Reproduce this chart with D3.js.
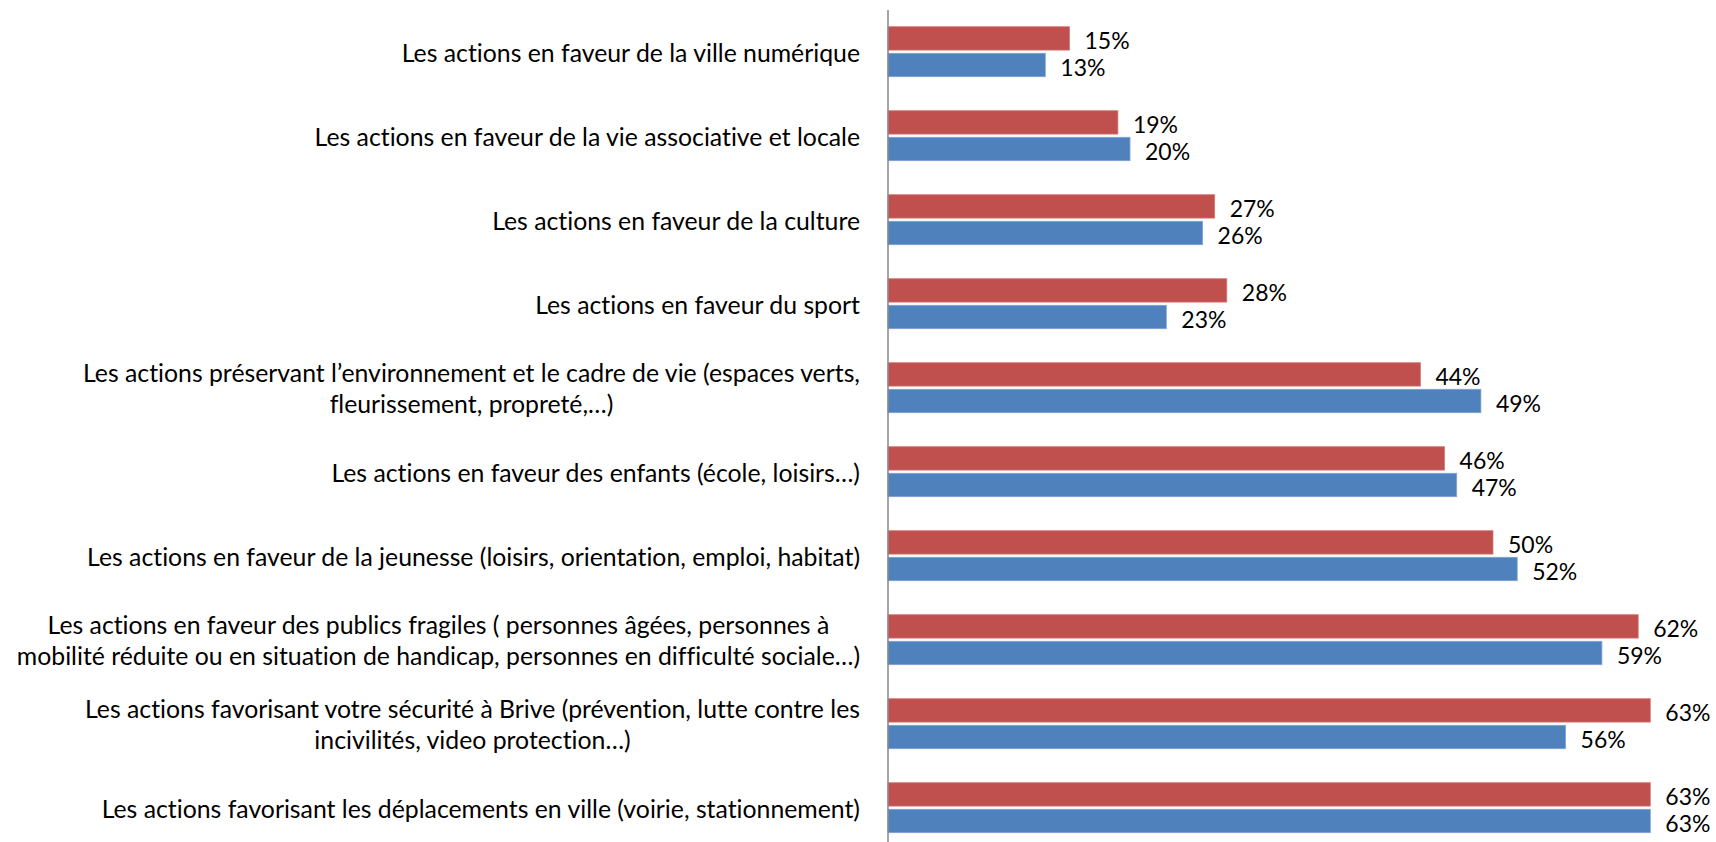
<!DOCTYPE html>
<html>
<head>
<meta charset="utf-8">
<script src="https://cdn.jsdelivr.net/npm/d3@7"></script>
<style>
  html, body { margin: 0; padding: 0; background: #fff; }
  svg { display: block; }
  text { font-variant-ligatures: none; }
</style>
</head>
<body>
<svg id="chart" width="1716" height="842"></svg>
<script>
const categories = [
  "Les actions en faveur de la ville numérique",
  "Les actions en faveur de la vie associative et locale",
  "Les actions en faveur de la culture",
  "Les actions en faveur du sport",
  "Les actions préservant l’environnement et le cadre de vie (espaces verts,\nfleurissement, propreté,…)",
  "Les actions en faveur des enfants (école, loisirs…)",
  "Les actions en faveur de la jeunesse (loisirs, orientation, emploi, habitat)",
  "Les actions en faveur des publics fragiles ( personnes âgées, personnes à\nmobilité réduite ou en situation de handicap, personnes en difficulté sociale…)",
  "Les actions favorisant votre sécurité à Brive (prévention, lutte contre les\nincivilités, video protection…)",
  "Les actions favorisant les déplacements en ville (voirie, stationnement)"
];
const seriesRed = [0.15, 0.19, 0.27, 0.28, 0.44, 0.46, 0.50, 0.62, 0.63, 0.63];
const seriesBlue = [0.13, 0.20, 0.26, 0.23, 0.49, 0.47, 0.52, 0.59, 0.56, 0.63];
const seriesNames = ["red", "blue"];
const seriesColors = {red: "#C0504D", blue: "#4F81BD"};
const seriesStroke = {red: "#D47B78", blue: "#7FA4D3"};

const svg = d3.select("#chart");
const FONT = "Lato, 'Open Sans', sans-serif";
const FS_VAL = 23;
const FS_CAT = 24.8;

const axisX = 888;
const x = d3.scaleLinear().domain([0, 0.70]).range([axisX, axisX + 847]);
const y = d3.scaleBand().domain(d3.range(categories.length)).range([9.7, 849.7]).paddingInner(0).paddingOuter(0);
const inner = d3.scaleBand().domain(seriesNames).range([-25, 25]).paddingInner(0.12);

const data = [];
categories.forEach((c, i) => {
  data.push({i, s: "red", v: seriesRed[i]});
  data.push({i, s: "blue", v: seriesBlue[i]});
});

const g = svg.append("g");

g.selectAll("rect.bar").data(data).enter().append("rect")
  .attr("class", "bar")
  .attr("x", x(0))
  .attr("y", d => y(d.i) + y.bandwidth() / 2 + inner(d.s))
  .attr("width", d => x(d.v) - x(0))
  .attr("height", inner.bandwidth())
  .attr("fill", d => seriesColors[d.s])
  .attr("stroke", d => seriesStroke[d.s])
  .attr("stroke-width", 0.8);

g.selectAll("text.val").data(data).enter().append("text")
  .attr("class", "val")
  .attr("x", d => x(d.v) + 15)
  .attr("y", d => y(d.i) + y.bandwidth() / 2 + inner(d.s) + inner.bandwidth() / 2 + 2)
  .attr("dominant-baseline", "central")
  .attr("font-family", FONT)
  .attr("font-size", FS_VAL)
  .attr("fill", "#000")
  .text(d => d3.format(".0%")(d.v));

// category labels
const labelRight = 860;
const lineH = 31;
categories.forEach((c, i) => {
  const lines = c.split("\n");
  const t = svg.append("text")
    .attr("font-family", FONT)
    .attr("font-size", FS_CAT)
    .attr("fill", "#000")
    .attr("text-anchor", "middle")
    .attr("dominant-baseline", "central");
  const cy = y(i) + y.bandwidth() / 2;
  const spans = lines.map((ln, k) => t.append("tspan")
    .attr("y", cy + (k - (lines.length - 1) / 2) * lineH)
    .text(ln));
  const maxW = d3.max(spans, s => s.node().getComputedTextLength());
  spans.forEach(s => s.attr("x", labelRight - maxW / 2));
});

// vertical axis line
svg.append("line")
  .attr("x1", axisX).attr("x2", axisX)
  .attr("y1", 10).attr("y2", 842)
  .attr("stroke", "#878787")
  .attr("stroke-width", 1.5);
</script>
</body>
</html>
